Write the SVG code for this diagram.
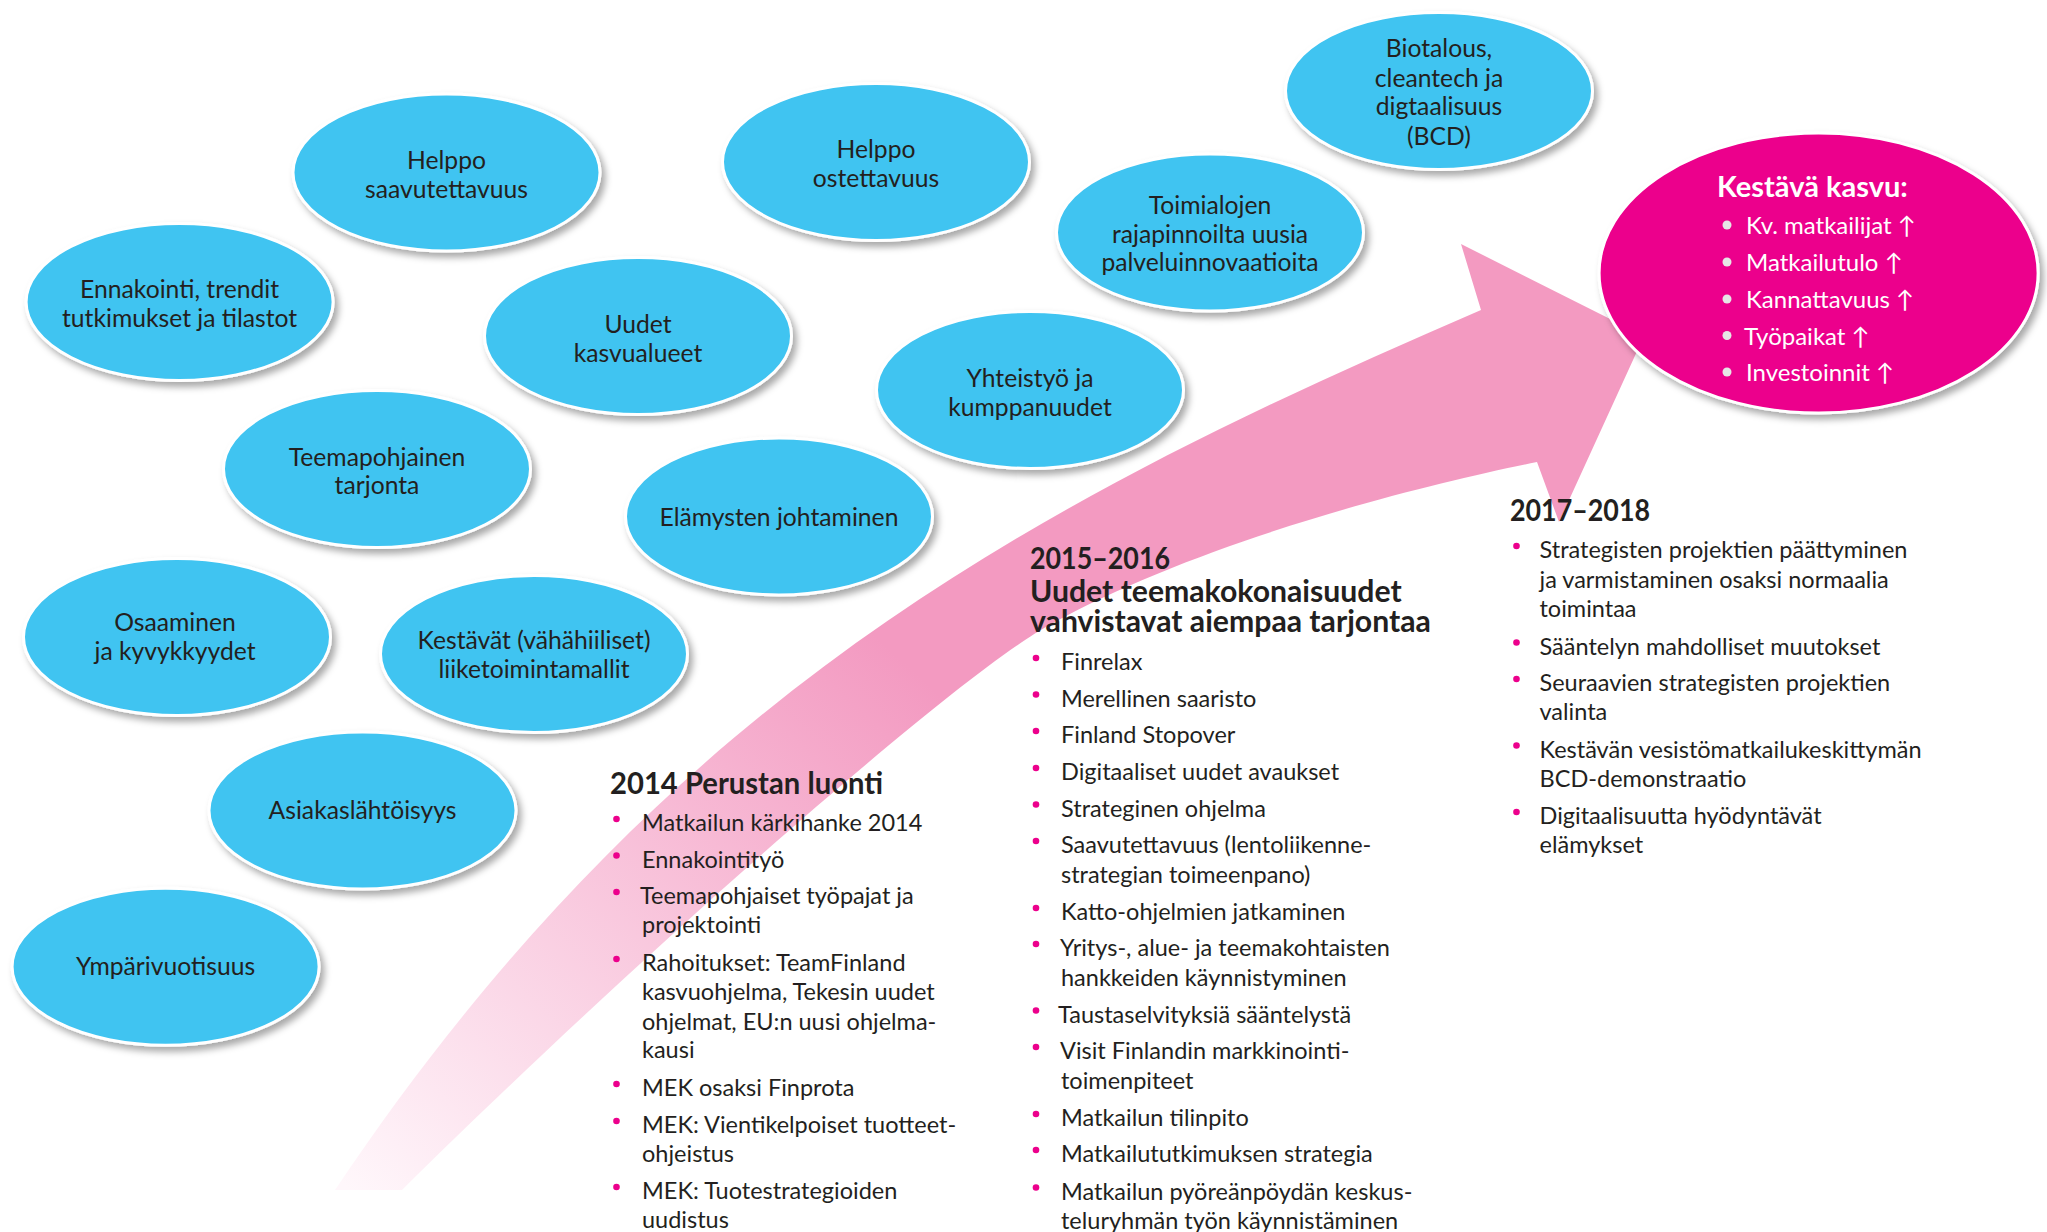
<svg xmlns="http://www.w3.org/2000/svg" width="2047" height="1232" viewBox="0 0 2047 1232">
<defs>
<filter id="sh" x="-10%" y="-10%" width="125%" height="135%">
<feGaussianBlur in="SourceAlpha" stdDeviation="3.5"/>
<feOffset dx="4" dy="5" result="o"/>
<feFlood flood-color="#000" flood-opacity="0.34"/>
<feComposite in2="o" operator="in"/>
<feMerge><feMergeNode/><feMergeNode in="SourceGraphic"/></feMerge>
</filter>
<linearGradient id="ag" gradientUnits="userSpaceOnUse" x1="360" y1="1200" x2="880" y2="640">
<stop offset="0" stop-color="#fff7fb"/>
<stop offset="1" stop-color="#f39ac1"/>
</linearGradient>
<style>
.b ellipse{fill:#40c4f1;stroke:#fff;stroke-width:3;filter:url(#sh)}
.t{font-family:Lato,"Liberation Sans",sans-serif;font-size:23.5px;fill:#231f20}
.c{text-anchor:middle;font-size:24.7px}
.h{font-weight:bold;font-size:30.2px}
.k{font-weight:bold;font-size:29px}
.m{font-size:24px}
.d{fill:#ec008c}
.w{fill:#fff}
.g{fill:#e6e6e6}
</style>
</defs>
<rect width="2047" height="1232" fill="#fff"/>

<g id="connectors">
<path id="timeline-arrow" fill="url(#ag)" d="M335,1190 C665,698 1031,503.5 1481,310 L1461,244 L1644,336 L1559,522 L1537,462 C1417,486 1201,541.5 1051,624 C951,679 622,972 402,1190 Z"/>
</g>

<g id="n-helppo-saavutettavuus" class="b"><ellipse cx="446.5" cy="172.5" rx="153.5" ry="78.5"/>
<text class="t c" x="446.5" y="168.5">Helppo<tspan x="446.5" dy="29">saavutettavuus</tspan></text></g>
<g id="n-helppo-ostettavuus" class="b"><ellipse cx="876" cy="162" rx="153.5" ry="78.5"/>
<text class="t c" x="876" y="158">Helppo<tspan x="876" dy="29">ostettavuus</tspan></text></g>
<g id="n-ennakointi" class="b"><ellipse cx="179.6" cy="302" rx="153.5" ry="78.5"/>
<text class="t c" x="179.6" y="298">Ennakointi, trendit<tspan x="179.6" dy="29">tutkimukset ja tilastot</tspan></text></g>
<g id="n-uudet-kasvualueet" class="b"><ellipse cx="638" cy="336" rx="153.5" ry="78.5"/>
<text class="t c" x="638" y="333">Uudet<tspan x="638" dy="29">kasvualueet</tspan></text></g>
<g id="n-teemapohjainen" class="b"><ellipse cx="377" cy="469" rx="153.5" ry="78.5"/>
<text class="t c" x="377" y="465.5">Teemapohjainen<tspan x="377" dy="28.5">tarjonta</tspan></text></g>
<g id="n-elamysten" class="b"><ellipse cx="779" cy="516.5" rx="153.5" ry="78.5"/>
<text class="t c" x="779" y="525.5">Elämysten johtaminen</text></g>
<g id="n-yhteistyo" class="b"><ellipse cx="1030" cy="390" rx="153.5" ry="78.5"/>
<text class="t c" x="1030" y="387">Yhteistyö ja<tspan x="1030" dy="29">kumppanuudet</tspan></text></g>
<g id="n-toimialojen" class="b"><ellipse cx="1210" cy="232.5" rx="153.5" ry="78.5"/>
<text class="t c" x="1210" y="214">Toimialojen<tspan x="1210" dy="28.5">rajapinnoilta uusia</tspan><tspan x="1210" dy="28.5">palveluinnovaatioita</tspan></text></g>
<g id="n-biotalous" class="b"><ellipse cx="1439" cy="91" rx="153.5" ry="78.5"/>
<text class="t c" x="1439" y="57">Biotalous,<tspan x="1439" dy="29.5">cleantech ja</tspan><tspan x="1439" dy="28.5">digtaalisuus</tspan><tspan x="1439" dy="29.5">(BCD)</tspan></text></g>
<g id="n-osaaminen" class="b"><ellipse cx="177" cy="637" rx="153.5" ry="78.5"/>
<text class="t c" x="175" y="631">Osaaminen<tspan x="175" dy="29">ja kyvykkyydet</tspan></text></g>
<g id="n-kestavat" class="b"><ellipse cx="534" cy="654" rx="153.5" ry="78.5"/>
<text class="t c" x="534" y="649">Kestävät (vähähiiliset)<tspan x="534" dy="28.5">liiketoimintamallit</tspan></text></g>
<g id="n-asiakaslahtoisyys" class="b"><ellipse cx="362.5" cy="810.5" rx="153.5" ry="78.5"/>
<text class="t c" x="362.5" y="819">Asiakaslähtöisyys</text></g>
<g id="n-ymparivuotisuus" class="b"><ellipse cx="165.6" cy="966.7" rx="153.5" ry="78.5"/>
<text class="t c" x="165.6" y="975">Ympärivuotisuus</text></g>

<g id="n-kestava-kasvu">
<ellipse cx="1818.6" cy="273" rx="219.5" ry="140" fill="#ec008c" stroke="#fff" stroke-width="3" filter="url(#sh)"/>
<text class="t k w" x="1717" y="196.5">Kestävä kasvu:</text>
<circle class="g" cx="1727" cy="225" r="4.5"/><text class="t m w" x="1746" y="234">Kv. matkailijat ↑</text>
<circle class="g" cx="1727" cy="262" r="4.5"/><text class="t m w" x="1746" y="271">Matkailutulo ↑</text>
<circle class="g" cx="1727" cy="299" r="4.5"/><text class="t m w" x="1746" y="308">Kannattavuus ↑</text>
<circle class="g" cx="1727" cy="335.5" r="4.5"/><text class="t m w" x="1744" y="344.5">Työpaikat ↑</text>
<circle class="g" cx="1727" cy="372" r="4.5"/><text class="t m w" x="1746" y="381">Investoinnit ↑</text>
</g>

<g id="phase-2014">
<text class="t h" x="610" y="794" textLength="273" lengthAdjust="spacingAndGlyphs">2014 Perustan luonti</text>
<circle class="d" cx="616.5" cy="819" r="3.3"/><text class="t" x="642" y="831">Matkailun kärkihanke 2014</text>
<circle class="d" cx="616.5" cy="855.5" r="3.3"/><text class="t" x="642" y="867.5">Ennakointityö</text>
<circle class="d" cx="616.5" cy="892" r="3.3"/><text class="t" x="640" y="904">Teemapohjaiset työpajat ja<tspan x="642" dy="29">projektointi</tspan></text>
<circle class="d" cx="616.5" cy="959" r="3.3"/><text class="t" x="642" y="971">Rahoitukset: TeamFinland<tspan x="642" dy="29">kasvuohjelma, Tekesin uudet</tspan><tspan x="642" dy="29.5">ohjelmat, EU:n uusi ohjelma-</tspan><tspan x="642" dy="28.5">kausi</tspan></text>
<circle class="d" cx="616.5" cy="1084" r="3.3"/><text class="t" x="642" y="1096">MEK osaksi Finprota</text>
<circle class="d" cx="616.5" cy="1121" r="3.3"/><text class="t" x="642" y="1133">MEK: Vientikelpoiset tuotteet-<tspan x="642" dy="28.5">ohjeistus</tspan></text>
<circle class="d" cx="616.5" cy="1187" r="3.3"/><text class="t" x="642" y="1199">MEK: Tuotestrategioiden<tspan x="642" dy="28.5">uudistus</tspan></text>
</g>

<g id="phase-2015">
<text class="t h" x="1030" y="569"><tspan textLength="140" lengthAdjust="spacingAndGlyphs">2015–2016</tspan><tspan x="1030" dy="32.5">Uudet teemakokonaisuudet</tspan><tspan x="1030" dy="30.5">vahvistavat aiempaa tarjontaa</tspan></text>
<circle class="d" cx="1036" cy="658" r="3.3"/><text class="t" x="1061" y="670">Finrelax</text>
<circle class="d" cx="1036" cy="694.5" r="3.3"/><text class="t" x="1061" y="706.5">Merellinen saaristo</text>
<circle class="d" cx="1036" cy="731" r="3.3"/><text class="t" x="1061" y="743">Finland Stopover</text>
<circle class="d" cx="1036" cy="768" r="3.3"/><text class="t" x="1061" y="780">Digitaaliset uudet avaukset</text>
<circle class="d" cx="1036" cy="804.5" r="3.3"/><text class="t" x="1061" y="816.5">Strateginen ohjelma</text>
<circle class="d" cx="1036" cy="841" r="3.3"/><text class="t" x="1061" y="853">Saavutettavuus (lentoliikenne-<tspan x="1061" dy="30">strategian toimeenpano)</tspan></text>
<circle class="d" cx="1036" cy="908" r="3.3"/><text class="t" x="1061" y="920">Katto-ohjelmien jatkaminen</text>
<circle class="d" cx="1036" cy="944" r="3.3"/><text class="t" x="1060" y="956">Yritys-, alue- ja teemakohtaisten<tspan x="1061" dy="29.5">hankkeiden käynnistyminen</tspan></text>
<circle class="d" cx="1036" cy="1010.5" r="3.3"/><text class="t" x="1058" y="1022.5">Taustaselvityksiä sääntelystä</text>
<circle class="d" cx="1036" cy="1047" r="3.3"/><text class="t" x="1060" y="1059">Visit Finlandin markkinointi-<tspan x="1061" dy="30">toimenpiteet</tspan></text>
<circle class="d" cx="1036" cy="1114" r="3.3"/><text class="t" x="1061" y="1126">Matkailun tilinpito</text>
<circle class="d" cx="1036" cy="1150" r="3.3"/><text class="t" x="1061" y="1162">Matkailututkimuksen strategia</text>
<circle class="d" cx="1036" cy="1187.5" r="3.3"/><text class="t" x="1061" y="1199.5">Matkailun pyöreänpöydän keskus-<tspan x="1061" dy="29.5">teluryhmän työn käynnistäminen</tspan></text>
</g>

<g id="phase-2017">
<text class="t h" x="1510" y="521" textLength="140" lengthAdjust="spacingAndGlyphs">2017–2018</text>
<circle class="d" cx="1516.5" cy="546" r="3.3"/><text class="t" x="1539.5" y="558">Strategisten projektien päättyminen<tspan x="1539.5" dy="29.5">ja varmistaminen osaksi normaalia</tspan><tspan x="1539.5" dy="29">toimintaa</tspan></text>
<circle class="d" cx="1516.5" cy="642.5" r="3.3"/><text class="t" x="1539.5" y="654.5">Sääntelyn mahdolliset muutokset</text>
<circle class="d" cx="1516.5" cy="679" r="3.3"/><text class="t" x="1539.5" y="691">Seuraavien strategisten projektien<tspan x="1539.5" dy="29">valinta</tspan></text>
<circle class="d" cx="1516.5" cy="745.5" r="3.3"/><text class="t" x="1539.5" y="757.5">Kestävän vesistömatkailukeskittymän<tspan x="1539.5" dy="29.5">BCD-demonstraatio</tspan></text>
<circle class="d" cx="1516.5" cy="812" r="3.3"/><text class="t" x="1539.5" y="824">Digitaalisuutta hyödyntävät<tspan x="1539.5" dy="29">elämykset</tspan></text>
</g>
</svg>
